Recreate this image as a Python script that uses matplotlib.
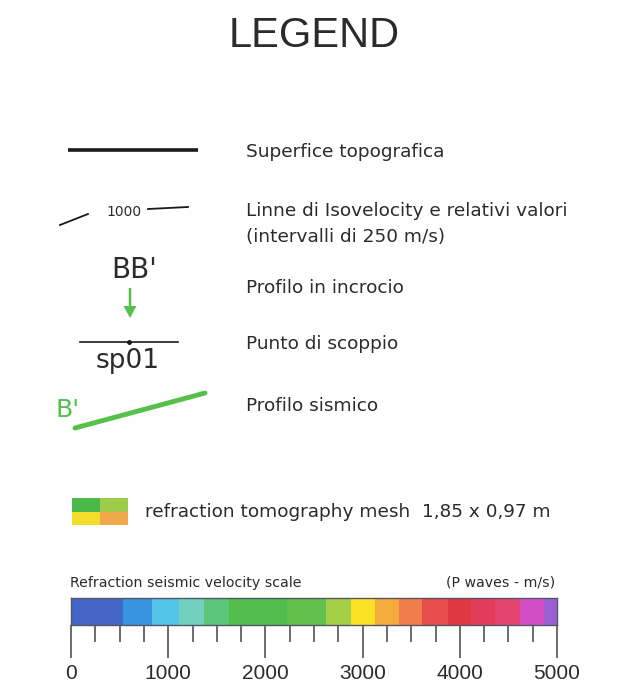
import matplotlib
matplotlib.use("Agg")
import matplotlib.pyplot as plt
from matplotlib.patches import Rectangle, FancyArrow

plt.rcParams['font.family'] = ['DejaVu Sans']

# ---- data ----
title = "LEGEND"
legend_labels = ["Superfice topografica",
                 "Linne di Isovelocity e relativi valori\n(intervalli di 250 m/s)",
                 "Profilo in incrocio",
                 "Punto di scoppio",
                 "Profilo sismico"]
iso_value = "1000"
cross_label = "BB'"
shot_label = "sp01"
profile_label = "B'"
mesh_label = "refraction tomography mesh  1,85 x 0,97 m"
mesh_colors = ["#4cb84a", "#9ccc48", "#f3dc2c", "#f0a94a"]  # TL, TR, BL, BR
scale_title = "Refraction seismic velocity scale"
scale_units = "(P waves - m/s)"
vel_bounds = [0, 530, 830, 1107, 1368, 1623, 2222, 2620, 2876, 3127, 3370,
              3614, 3875, 4120, 4363, 4624, 4868, 5000]
vel_colors = ["#4466c6", "#3a95e0", "#52c4ea", "#72d0bf", "#5cc67c", "#52bd4c",
              "#62c04c", "#a5cf46", "#fbe224", "#f5aa3c", "#f07e4c", "#e84c4c",
              "#e0383f", "#e23c5a", "#e2446e", "#d34ec4", "#9a60d2"]
major_ticks = [0, 1000, 2000, 3000, 4000, 5000]
minor_ticks = list(range(0, 5001, 250))

TXT = "#2b2b2b"
GREEN = "#55c04a"
ARIAL = ['Liberation Sans', 'DejaVu Sans']

W, H = 621, 693
fig = plt.figure(figsize=(W / 100, H / 100), dpi=100)
ax = fig.add_axes([0, 0, 1, 1])
ax.set_xlim(0, W)
ax.set_ylim(H, 0)
ax.axis("off")

ax.text(314, 36, title, fontsize=30, color=TXT, ha="center", va="center",
        family=ARIAL)

# text column
tx = 246
ys = [152, 224, 288, 344, 406]
for y, lab in zip(ys, legend_labels):
    ax.text(tx, y, lab, fontsize=13.3, color=TXT, ha="left", va="center",
            linespacing=1.5)

# topographic line
ax.plot([68, 198], [150, 150], color="#1a1a1a", lw=2.6, solid_capstyle="butt")

# isovelocity
ax.plot([60, 88], [225, 214], color="#1a1a1a", lw=1.3)
ax.text(106, 212, iso_value, fontsize=10, color=TXT, ha="left", va="center")
ax.plot([148, 188], [209, 207], color="#1a1a1a", lw=1.3)

# cross profile
ax.text(134, 270, cross_label, fontsize=20, color=TXT, ha="center", va="center")
ax.add_patch(FancyArrow(130, 288, 0, 30, width=2.5, head_width=13,
                        head_length=12, length_includes_head=True,
                        color=GREEN, lw=0))

# shot point
ax.plot([80, 178], [342, 342], color="#1a1a1a", lw=1.2)
ax.plot([129], [342], marker="o", ms=2.5, color="#1a1a1a")
ax.text(128, 361, shot_label, fontsize=19, color=TXT, ha="center", va="center")

# seismic profile
ax.text(55, 410, profile_label, fontsize=18, color=GREEN, ha="left", va="center")
ax.plot([75, 205], [428, 393], color=GREEN, lw=3.5, solid_capstyle="round")

# mesh swatch
x0, y0, cw, ch = 72, 498, 28, 13.5
for i, c in enumerate(mesh_colors):
    r, col = divmod(i, 2)
    ax.add_patch(Rectangle((x0 + col * cw, y0 + r * ch), cw, ch, color=c, lw=0))
ax.text(145, 512, mesh_label, fontsize=13.3, color=TXT, ha="left", va="center")

# velocity scale
ax.text(70, 583, scale_title, fontsize=10.2, color=TXT, ha="left", va="center")
ax.text(555, 583, scale_units, fontsize=10.2, color=TXT, ha="right", va="center")

cax = fig.add_axes([71 / W, 1 - 625 / H, (557 - 71) / W, 27 / H])
lefts = vel_bounds[:-1]
widths = [b - a for a, b in zip(vel_bounds[:-1], vel_bounds[1:])]
cax.bar(lefts, [1] * len(lefts), width=widths, align="edge", color=vel_colors,
        lw=0)
cax.set_xlim(0, 5000)
cax.set_ylim(0, 1)
cax.set_yticks([])
cax.set_xticks(major_ticks)
cax.set_xticks(minor_ticks, minor=True)
cax.set_xticklabels([str(t) for t in major_ticks], family=ARIAL)
cax.tick_params(axis="x", which="major", length=24, width=1.1, color="#444444",
                labelsize=15, labelcolor=TXT, pad=4)
cax.tick_params(axis="x", which="minor", length=12.5, width=1.1, color="#444444")
for s in cax.spines.values():
    s.set_color("#555566")
    s.set_linewidth(1.0)

fig.savefig("out.png", dpi=100, facecolor="white")
